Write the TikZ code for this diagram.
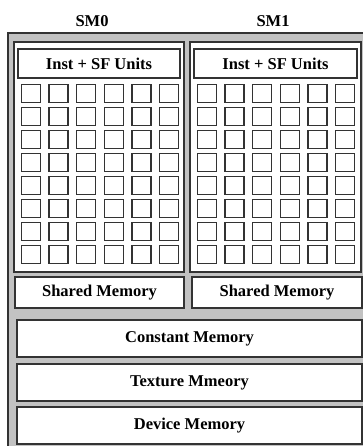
\documentclass[tikz,border=0pt]{standalone}
\usepackage{fontspec}
\setmainfont{Liberation Serif}
\usetikzlibrary{positioning}
\definecolor{chipgray}{HTML}{C2C2C2}
\definecolor{edgegray}{HTML}{333333}

\begin{document}
\begin{tikzpicture}[
      x=1pt, y=-1pt,
      smbox/.style={draw=edgegray, line width=1.6pt, fill=white, minimum width=170pt, minimum height=230pt, inner sep=0pt},
      unitbox/.style={draw=edgegray, line width=1.6pt, fill=white, minimum width=162pt, minimum height=29pt, inner sep=0pt, font=\fontsize{16.5}{18}\selectfont\bfseries},
      core/.style={draw=edgegray, line width=1.4pt, fill=white, minimum width=19pt, minimum height=18pt, inner sep=0pt},
      membox/.style={draw=edgegray, line width=1.6pt, fill=white, minimum width=169pt, minimum height=31pt, inner sep=0pt, font=\fontsize{16.5}{18}\selectfont\bfseries},
      widemem/.style={draw=edgegray, line width=1.6pt, fill=white, minimum width=345pt, minimum height=37pt, inner sep=0pt, font=\fontsize{16.5}{18}\selectfont\bfseries},
      title/.style={font=\fontsize{16.5}{18}\selectfont\bfseries}
    ]

    \useasboundingbox (0,0) rectangle (363,446);
    \clip (0,0) rectangle (363,446);

    % chip outline
    \draw[draw=edgegray, line width=1.6pt, fill=chipgray] (8,33) rectangle (375,460);

    \node[title] (sm0title) at (92,21) {SM0};
    \node[title] (sm1title) at (273,21) {SM1};

    % two multiprocessors
    \node[smbox] (sm0) at (99,157) {};
    \node[smbox, minimum width=171pt] (sm1) at (275.5,157) {};

    \node[unitbox] (inst0) at (99,63.5) {Inst + SF Units};
    \node[unitbox, minimum width=163pt] (inst1) at (275.5,63.5) {Inst + SF Units};

    \foreach \row in {0,...,7} {
      \foreach \col in {0,...,5} {
        \node[core] (core0-\row-\col) at ({31+27.6*\col},{93.5+23*\row}) {};
        \node[core] (core1-\row-\col) at ({207+27.6*\col},{93.5+23*\row}) {};
      }
    }

    \node[membox] (shared0) at (99.5,292.5) {Shared Memory};
    \node[membox, minimum width=170pt] (shared1) at (277,292.5) {Shared Memory};

    % memories common to the chip
    \node[widemem] (constmem) at (189.5,338.5) {Constant Memory};
    \node[widemem] (texmem) at (189.5,382.5) {Texture Mmeory};
    \node[widemem] (devmem) at (189.5,425.5) {Device Memory};

  \end{tikzpicture}
\end{document}
